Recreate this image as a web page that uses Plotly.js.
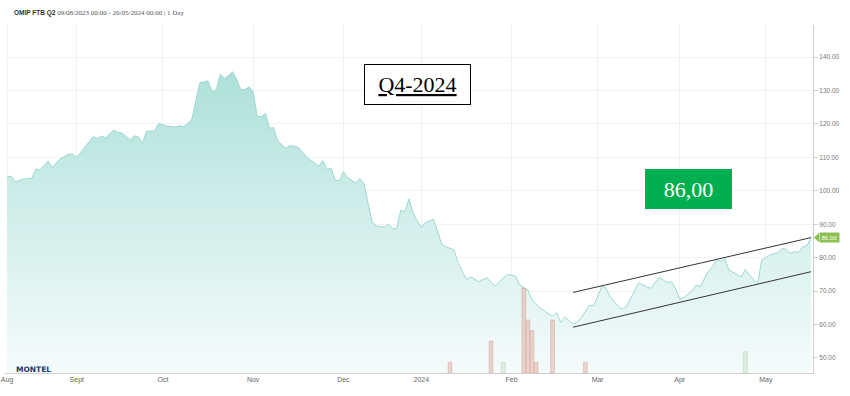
<!DOCTYPE html>
<html>
<head>
<meta charset="utf-8">
<script src="https://cdn.plot.ly/plotly-3.0.1.min.js"></script>
<style>html,body{margin:0;padding:0;background:#fff;}#chart{width:850px;height:396px;}</style>
</head>
<body>
<div id="chart"></div>
<script>
// ---- price series (OMIP FTB Q2, daily, trading days) ----
const priceDates = [
'2023-08-09','2023-08-10','2023-08-11','2023-08-15','2023-08-17','2023-08-18','2023-08-21','2023-08-23','2023-08-24','2023-08-28','2023-08-30','2023-08-31',
'2023-09-01','2023-09-07','2023-09-08','2023-09-11','2023-09-12','2023-09-14','2023-09-15','2023-09-18','2023-09-20','2023-09-21','2023-09-22','2023-09-25','2023-09-26','2023-09-28','2023-09-29',
'2023-10-03','2023-10-04','2023-10-05','2023-10-06','2023-10-09','2023-10-11','2023-10-13','2023-10-16','2023-10-17','2023-10-18','2023-10-19','2023-10-20','2023-10-23','2023-10-24','2023-10-25','2023-10-26','2023-10-27','2023-10-30','2023-10-31',
'2023-11-01','2023-11-02','2023-11-03','2023-11-06','2023-11-07','2023-11-08','2023-11-09','2023-11-10','2023-11-13','2023-11-14','2023-11-16','2023-11-20','2023-11-21','2023-11-23','2023-11-24','2023-11-27','2023-11-28','2023-11-29','2023-11-30',
'2023-12-01','2023-12-04','2023-12-06','2023-12-07','2023-12-08','2023-12-12','2023-12-13','2023-12-15','2023-12-18','2023-12-19','2023-12-20','2023-12-21','2023-12-22','2023-12-27','2023-12-28','2023-12-29',
'2024-01-02','2024-01-03','2024-01-05','2024-01-09','2024-01-10','2024-01-12','2024-01-15','2024-01-17','2024-01-18','2024-01-22','2024-01-24','2024-01-26','2024-01-29','2024-01-31',
'2024-02-02','2024-02-05','2024-02-07','2024-02-08','2024-02-12','2024-02-14','2024-02-15','2024-02-16','2024-02-19','2024-02-20','2024-02-22','2024-02-23','2024-02-26','2024-02-28','2024-02-29',
'2024-03-01','2024-03-04','2024-03-05','2024-03-06','2024-03-08','2024-03-11','2024-03-12','2024-03-14','2024-03-15','2024-03-19','2024-03-20','2024-03-22','2024-03-26','2024-03-27','2024-03-28',
'2024-04-02','2024-04-03','2024-04-05','2024-04-08','2024-04-09','2024-04-11','2024-04-12','2024-04-15','2024-04-16','2024-04-17','2024-04-18','2024-04-22','2024-04-23','2024-04-24','2024-04-25','2024-04-29','2024-04-30',
'2024-05-03','2024-05-07','2024-05-08','2024-05-09','2024-05-10','2024-05-13','2024-05-14','2024-05-15','2024-05-16','2024-05-17'
];
const priceValues = [
104.2,104.4,102.7,103.5,103.7,106.5,106.2,108.9,107.0,109.6,111.0,111.0,
110.0,116.2,115.6,116.4,115.9,118.2,117.5,117.3,115.2,116.4,116.2,114.2,117.8,118.0,120.2,
119.3,119.3,119.0,119.5,119.1,121.2,132.3,132.6,132.9,129.6,130.3,134.9,133.6,134.5,135.6,133.3,130.3,130.3,131.1,
129.6,122.2,122.2,123.2,118.7,118.9,114.9,113.7,112.7,113.6,113.0,110.2,109.2,107.4,109.0,106.4,106.8,103.2,103.0,
105.7,104.0,102.4,103.7,102.2,90.6,89.5,89.1,90.0,88.8,88.6,94.3,93.7,97.6,93.4,91.0,
89.1,90.5,91.5,84.0,83.3,82.3,78.3,73.5,74.3,72.8,74.0,71.5,72.8,75.0,
74.5,71.8,70.3,67.3,64.9,63.2,62.6,63.5,60.6,62.2,60.2,60.6,62.1,65.8,65.6,
68.3,71.5,71.0,68.3,65.5,64.6,65.3,69.8,72.5,71.3,70.8,74.1,72.5,72.8,70.8,
67.5,68.1,70.1,71.8,71.3,76.1,77.3,79.5,78.8,79.7,76.3,75.1,74.3,76.5,74.8,72.3,79.3,
80.8,81.5,82.8,82.5,81.3,81.8,81.6,83.3,83.5,86.0
];

// ---- volume bars ----
const volDownDates = ['2024-01-11','2024-01-25','2024-02-06','2024-02-07','2024-02-08','2024-02-09','2024-02-15','2024-02-27'];
const volDownValues = [1,3,8,5,4,1,5,1];
const volUpDates = ['2024-01-30','2024-04-24'];
const volUpValues = [1,2];

// ---- trend channel ----
const trendDates = ['2024-02-22','2024-05-17'];
const trendUpper = [69.6,86.0];
const trendLower = [59.2,75.8];

// ---- axes ----
const monthTickDates = ['2023-08-09','2023-09-01','2023-10-02','2023-11-01','2023-12-01','2024-01-02','2024-02-01','2024-03-01','2024-04-02','2024-05-02'];
const monthTickLabels = ['Aug','Sept','Oct','Nov','Dec','2024','Feb','Mar','Apr','May'];
const priceTicks = [50,60,70,80,90,100,110,120,130,140];
const holidays = ['2023-12-25','2023-12-26','2024-01-01','2024-03-29','2024-04-01','2024-05-01'];

const lastPrice = priceValues[priceValues.length-1];

// ---- layout helpers (pixel -> paper) ----
const W=850,H=396,M={l:5,r:37,t:25,b:23};
const PW=W-M.l-M.r, PH=H-M.t-M.b;
const px = x => (x-M.l)/PW;
const py = y => (H-M.b-y)/PH;

const traces = [
  {
    type:'scatter', mode:'lines', x:priceDates, y:priceValues,
    line:{color:'#9fd9d2', width:1},
    fill:'tozeroy',
    fillgradient:{type:'vertical', start:45.5, stop:136,
      colorscale:[[0,'#f5fbfb'],[0.5,'#d3efeb'],[1,'#ade0d9']]},
    hoverinfo:'skip'
  },
  {
    type:'bar', x:volDownDates, y:volDownValues, yaxis:'y2',
    width:0.95*86400000,
    marker:{color:'rgba(224,170,160,0.5)', line:{color:'rgba(205,140,130,0.55)', width:0.6}},
    hoverinfo:'skip'
  },
  {
    type:'bar', x:volUpDates, y:volUpValues, yaxis:'y2',
    width:0.95*86400000,
    marker:{color:'rgba(200,225,200,0.5)', line:{color:'rgba(160,200,160,0.6)', width:0.6}},
    hoverinfo:'skip'
  },
  {type:'scatter', mode:'lines', x:trendDates, y:trendUpper, line:{color:'#333', width:1}, hoverinfo:'skip'},
  {type:'scatter', mode:'lines', x:trendDates, y:trendLower, line:{color:'#333', width:1}, hoverinfo:'skip'}
];

const layout = {
  width:W, height:H,
  margin:{l:M.l, r:M.r, t:M.t, b:M.b, pad:0},
  paper_bgcolor:'#fff', plot_bgcolor:'#fff',
  showlegend:false,
  barmode:'overlay',
  xaxis:{
    type:'date',
    range:['2023-08-08 12:00','2024-05-17 12:00'],
    rangebreaks:[{bounds:['sat','mon']},{values:holidays}],
    tickmode:'array', tickvals:monthTickDates, ticktext:monthTickLabels,
    showgrid:true, gridcolor:'#f1f1f1', gridwidth:1,
    showline:true, linecolor:'#d0d0d0', linewidth:1,
    ticks:'', zeroline:false,
    tickfont:{family:'Liberation Sans, Arial, sans-serif', size:7, color:'#666'}
  },
  yaxis:{
    side:'right', range:[45.5,149.6],
    tickmode:'array', tickvals:priceTicks, ticktext:priceTicks.map(v=>v.toFixed(2)),
    showgrid:true, gridcolor:'#f3f3f3', gridwidth:1,
    showline:true, linecolor:'#d0d0d0', linewidth:1,
    ticks:'outside', ticklen:4, tickcolor:'#d0d0d0',
    zeroline:false,
    tickfont:{family:'Liberation Sans, Arial, sans-serif', size:6.5, color:'#777'}
  },
  yaxis2:{overlaying:'y', range:[0,32.8], visible:false, fixedrange:true},
  shapes:[
    {type:'path', xref:'paper', yref:'y',
     path:`M ${px(814)} ${lastPrice} L ${px(819)} ${lastPrice+1.4} L ${px(819)} ${lastPrice-1.4} Z`,
     fillcolor:'#8cc152', line:{width:0}}
  ],
  annotations:[
    {xref:'paper', yref:'paper', x:px(12), y:py(13), xanchor:'left', yanchor:'middle', showarrow:false,
     text:'<b>OMIP FTB Q2</b>', font:{family:'Liberation Sans, Arial, sans-serif', size:6.5, color:'#333'}},
    {xref:'paper', yref:'paper', x:px(52), y:py(13), xanchor:'left', yanchor:'middle', showarrow:false,
     text:'| 09/08/2023 00:00 - 20/05/2024 00:00 | 1 Day', font:{family:'Liberation Serif, Georgia, serif', size:7, color:'#555'}},
    {xref:'paper', yref:'paper', x:px(417.5), y:py(84), xanchor:'center', yanchor:'middle', showarrow:false,
     text:'<u>Q4-2024</u>', font:{family:'Liberation Serif, Times New Roman, serif', size:22, color:'#000'},
     bgcolor:'#fff', bordercolor:'#000', borderwidth:1, borderpad:0, width:105, height:39},
    {xref:'paper', yref:'paper', x:px(688.5), y:py(189), xanchor:'center', yanchor:'middle', showarrow:false,
     text:'86,00', font:{family:'Liberation Serif, Times New Roman, serif', size:22, color:'#fff'},
     bgcolor:'#00b050', borderwidth:0, borderpad:0, width:87, height:40},
    {xref:'paper', yref:'y', x:px(819), y:lastPrice, xanchor:'left', yanchor:'middle', showarrow:false,
     text:lastPrice.toFixed(2), font:{family:'Liberation Sans, Arial, sans-serif', size:6, color:'#fff'},
     bgcolor:'#8cc152', borderpad:1.5},
    {xref:'paper', yref:'paper', x:px(14), y:py(369), xanchor:'left', yanchor:'middle', showarrow:false,
     text:'<b>MONTEL</b>', font:{family:'DejaVu Sans, sans-serif', size:7.5, color:'#1d3a6b'}}
  ]
};

Plotly.newPlot('chart', traces, layout, {staticPlot:true, displayModeBar:false});
</script>
</body>
</html>
